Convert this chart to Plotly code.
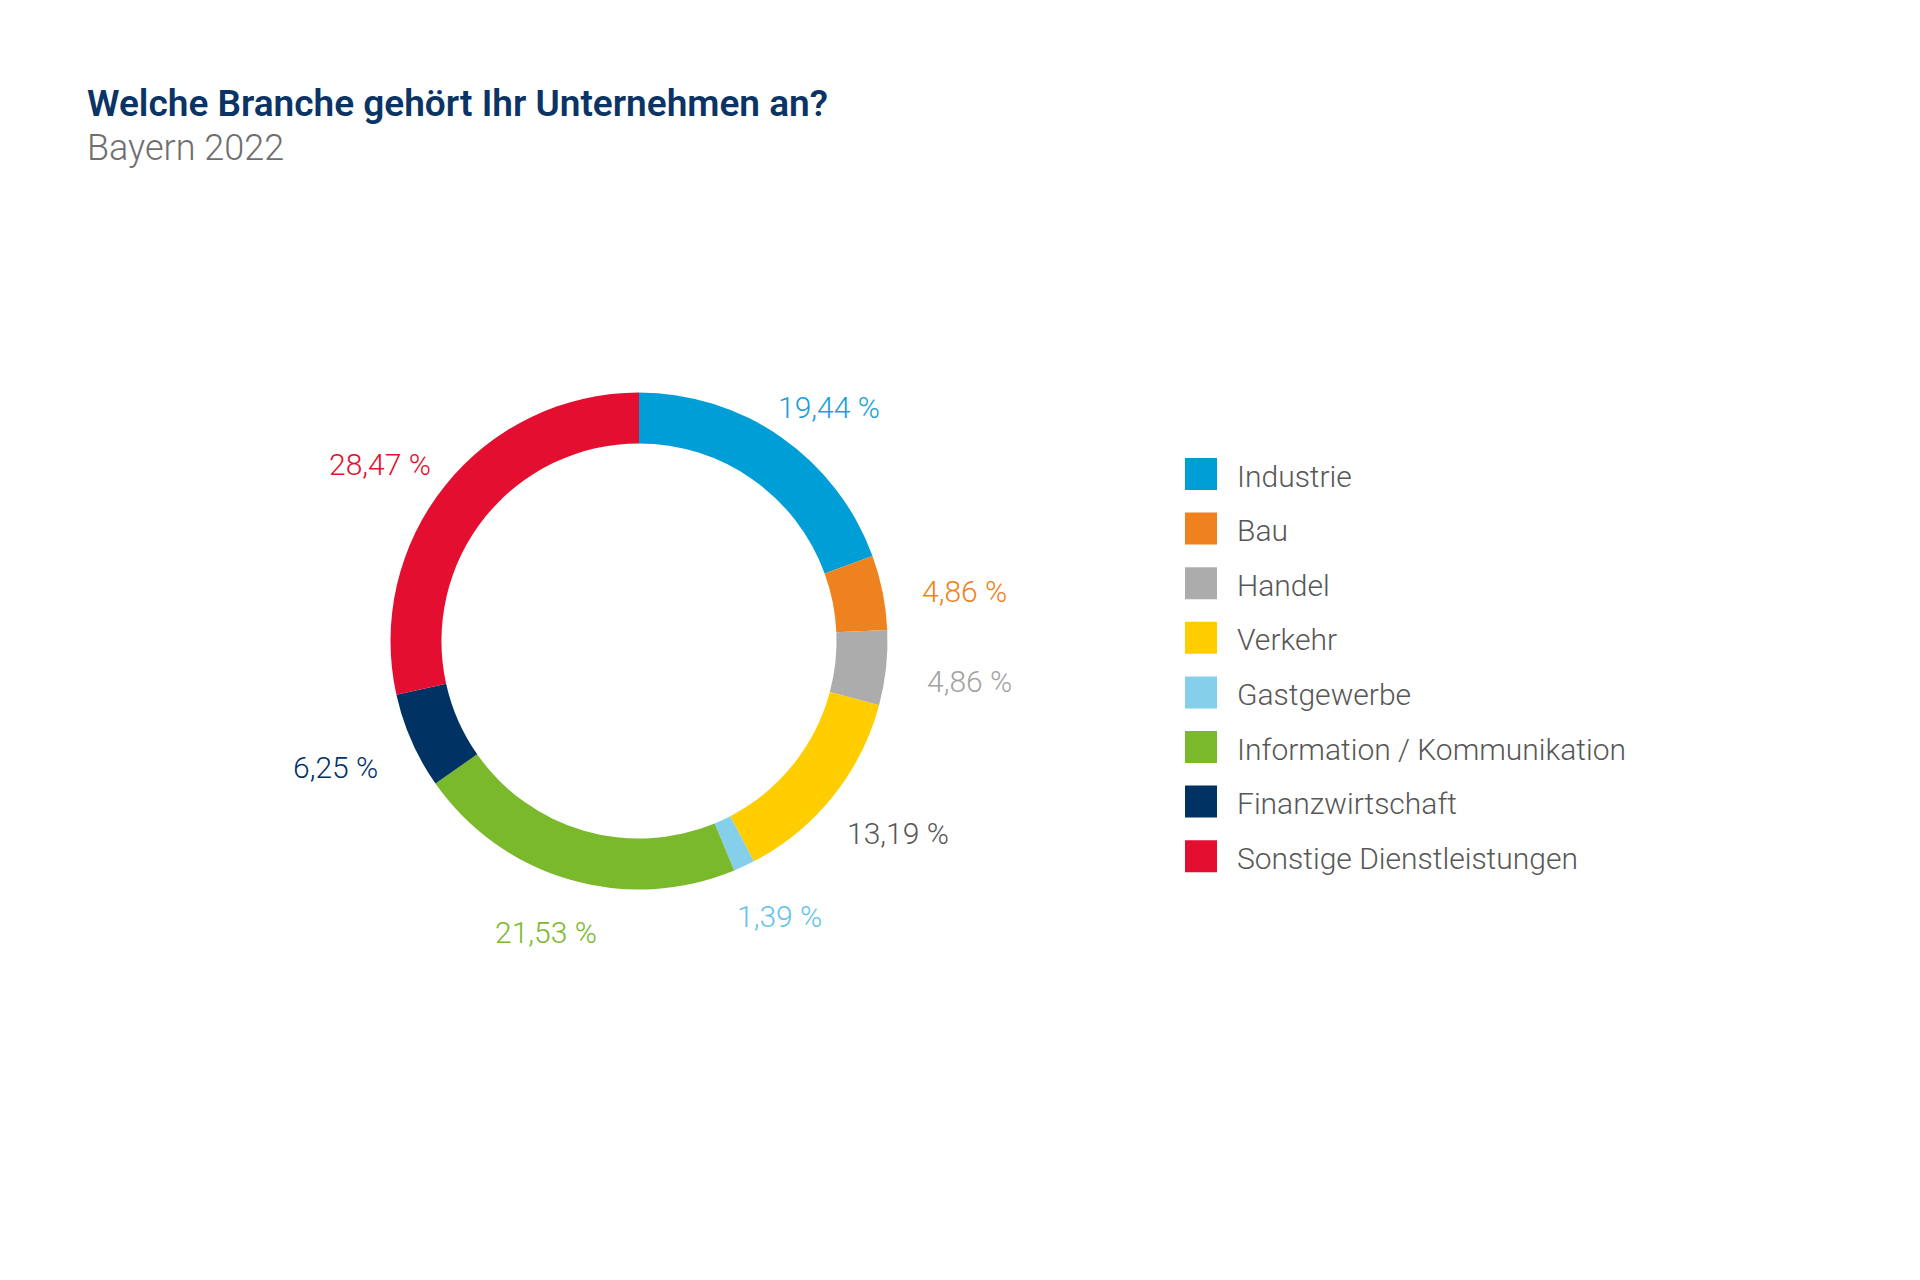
import math
import plotly.graph_objects as go

# ---------------- data ----------------
categories = ["Industrie", "Bau", "Handel", "Verkehr", "Gastgewerbe",
              "Information / Kommunikation", "Finanzwirtschaft",
              "Sonstige Dienstleistungen"]
shares = [19.44, 4.86, 4.86, 13.19, 1.39, 21.53, 6.25, 28.47]

slice_colors = ["#009ed6", "#ee821e", "#acacac", "#ffcd00", "#86cfea",
                "#7ab82c", "#003263", "#e30e30"]
label_colors = ["#1a9fd6", "#ee821e", "#a2a2a2", "#575757", "#62c3ea",
                "#7ab82c", "#003263", "#e30e30"]

title_text = "Welche Branche gehört Ihr Unternehmen an?"
subtitle_text = "Bayern 2022"

# ---------------- layout constants ----------------
W, H = 1920, 1280
PAGE_OFF = 8               # default body margin of the html page
CX, CY = 639, 641          # donut centre (page px from top-left)
R = 248.5                  # outer radius (px)
LABEL_R = 282              # radius of label anchor
LABEL_DY = 8
FONT = "Roboto, 'Open Sans', sans-serif"


def px(x):
    return (x - PAGE_OFF) / W


def py(y):
    return 1 - (y - PAGE_OFF) / H


fig = go.Figure()
fig.add_trace(go.Pie(
    labels=categories,
    values=shares,
    sort=False,
    direction="clockwise",
    rotation=0,
    hole=0.795,
    marker=dict(colors=slice_colors, line=dict(width=0)),
    textinfo="none",
    hovertemplate="%{label}: %{value:.2f} %<extra></extra>",
    showlegend=False,
    domain=dict(x=[px(CX - R), px(CX + R)], y=[py(CY + R), py(CY - R)]),
))

annotations = []
shapes = []

# percentage labels around the ring, positioned from the slice mid-angles
total = sum(shares)
cum = 0.0
for v, col in zip(shares, label_colors):
    theta = (cum + v / 2) / total * 2 * math.pi
    cum += v
    s, c = math.sin(theta), math.cos(theta)
    lx = CX + LABEL_R * s + 50 * s
    ly = CY - LABEL_R * c - 13 * c + LABEL_DY
    annotations.append(dict(
        x=px(lx), y=py(ly), xref="paper", yref="paper",
        text=f"{v:.2f}".replace(".", ",") + " %",
        showarrow=False, xanchor="center", yanchor="middle",
        font=dict(family=FONT, size=30, color=col, weight=300),
    ))

# title + subtitle
annotations.append(dict(
    x=px(85), y=py(103), xref="paper", yref="paper", text=title_text,
    showarrow=False, xanchor="left", yanchor="middle",
    font=dict(family=FONT, size=37, color="#0b3466", weight=600),
))
annotations.append(dict(
    x=px(85), y=py(148.5), xref="paper", yref="paper", text=subtitle_text,
    showarrow=False, xanchor="left", yanchor="middle",
    font=dict(family=FONT, size=36, color="#6f6f6f", weight=300),
))

# legend (swatches + names)
LEG_X, LEG_Y0, LEG_STEP, SW = 1185, 458, 54.6, 32
for i, (name, col) in enumerate(zip(categories, slice_colors)):
    top = LEG_Y0 + i * LEG_STEP
    shapes.append(dict(
        type="rect", xref="paper", yref="paper",
        x0=px(LEG_X), x1=px(LEG_X + SW), y0=py(top + SW), y1=py(top),
        fillcolor=col, line=dict(width=0),
    ))
    annotations.append(dict(
        x=px(1235), y=py(top + SW / 2 + 2), xref="paper", yref="paper",
        text=name, showarrow=False, xanchor="left", yanchor="middle",
        font=dict(family=FONT, size=30, color="#575757", weight=300),
    ))

fig.update_layout(
    width=W, height=H,
    margin=dict(l=0, r=0, t=0, b=0),
    paper_bgcolor="white", plot_bgcolor="white",
    annotations=annotations, shapes=shapes,
    showlegend=False,
)

fig.write_html("out.html")
